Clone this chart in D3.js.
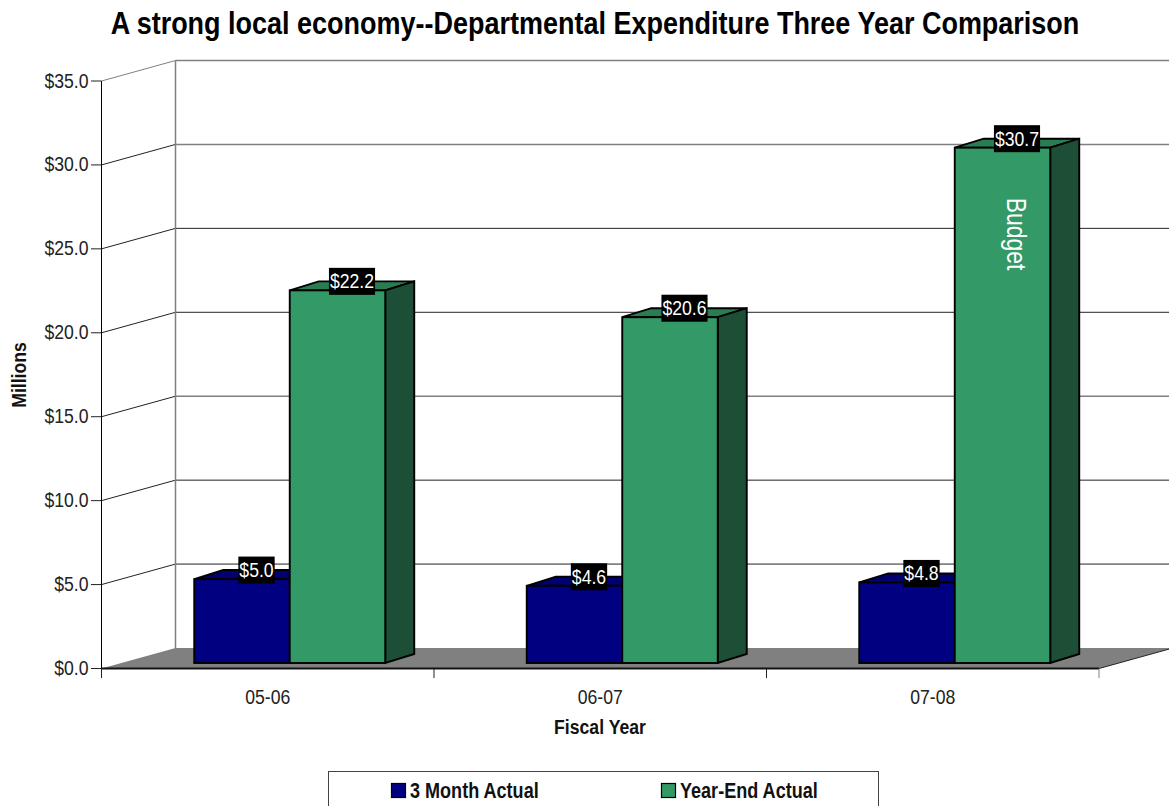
<!DOCTYPE html>
<html><head><meta charset="utf-8">
<script src="https://cdnjs.cloudflare.com/ajax/libs/d3/7.8.5/d3.min.js"></script>
<style>html,body{margin:0;padding:0;background:#fff;overflow:hidden}svg{display:block}text{font-family:"Liberation Sans",Arial,sans-serif}</style>
</head><body><svg id="c" width="1169" height="806"></svg>
<script>
const categories=["05-06","06-07","07-08"];
const seriesNames=["3 Month Actual","Year-End Actual"];
const threeMonth=[5.0,4.6,4.8];
const yearEnd=[22.2,20.6,30.7];
const yTicks=[0,5,10,15,20,25,30,35];
const heavyTicks=[15,30,35];
const title="A strong local economy--Departmental Expenditure Three Year Comparison";
const xTitle="Fiscal Year", yTitle="Millions", note="Budget";

const frontCol=["#000080","#339966"], topCol=["#000070","#2a7d53"], sideCol=["#000050","#1c4f36"];
const svg=d3.select("#c");
const y=d3.scaleLinear().domain([0,35]).range([668.5,81]);
const x=d3.scaleBand().domain(categories).range([101.5,1099]);
const s=d3.scaleBand().domain(seriesNames).range([-95.5,95.5]);
const wall={dx:74,dy:-20.5}, front={dx:22,dy:-5.5}, back={dx:51,dy:-14.5};
const fmt=d3.format("$.1f");
const W=x.range()[1], L=x.range()[0], Y0=y(0);
const NARROW=0.84;
function label(parent,str,px,py,size,opts={}){
  const rot=opts.rotate?` rotate(${opts.rotate})`:"";
  const sx=opts.sx||NARROW;
  return parent.append("text").attr("transform",`translate(${px},${py})${rot} scale(${sx},1)`)
    .attr("text-anchor",opts.anchor||"middle").attr("font-size",size)
    .attr("font-weight",opts.bold?"bold":"normal").attr("fill",opts.fill||"#222").text(str);
}

label(svg,title,595,34,32,{bold:true,fill:"#000",sx:0.8435});

// floor
svg.append("polygon").attr("fill","#808080").attr("points",[[L,Y0],[L+wall.dx,Y0+wall.dy],[W+wall.dx,Y0+wall.dy],[W,Y0]].join(" "));
// grid
const gridG=svg.append("g");
yTicks.filter(t=>t>0).forEach(t=>{
  const gy=y(t);
  const heavy=heavyTicks.includes(t);
  gridG.append("line").attr("x1",L).attr("y1",gy).attr("x2",L+wall.dx).attr("y2",gy+wall.dy).attr("stroke",t===35?"#808080":"#222").attr("stroke-width",1);
  gridG.append("line").attr("x1",L+wall.dx).attr("y1",gy+wall.dy).attr("x2",1169).attr("y2",gy+wall.dy).attr("stroke",heavy?"#808080":"#222").attr("stroke-width",heavy?1.5:1);
});
gridG.append("line").attr("x1",L+wall.dx).attr("x2",L+wall.dx).attr("y1",y(35)+wall.dy).attr("y2",Y0+wall.dy).attr("stroke","#808080").attr("stroke-width",1.5);
svg.append("line").attr("x1",W).attr("y1",Y0).attr("x2",W+wall.dx).attr("y2",Y0+wall.dy).attr("stroke","#222").attr("stroke-width",1);

// bars
const rows=categories.map((c,i)=>[threeMonth[i],yearEnd[i]]);
const barG=svg.append("g").attr("stroke","#000").attr("stroke-width",1.9).attr("stroke-linejoin","miter");
const labels=[];
categories.forEach((c,i)=>{
  const cx=x(c)+x.bandwidth()/2;
  seriesNames.forEach((n,j)=>{
    const v=rows[i][j];
    const x0=cx+s(n)+front.dx, x1=x0+s.bandwidth();
    const ddx=back.dx-front.dx, ddy=back.dy-front.dy;
    const yb=y(0)+front.dy, yt=y(v)+front.dy;
    barG.append("polygon").attr("fill",topCol[j]).attr("points",[[x0,yt],[x0+ddx,yt+ddy],[x1+ddx,yt+ddy],[x1,yt]].join(" "));
    barG.append("polygon").attr("fill",sideCol[j]).attr("points",[[x1,yt],[x1+ddx,yt+ddy],[x1+ddx,yb+ddy],[x1,yb]].join(" "));
    labels.push({v,lx:(x0+x1+ddx)/2,ly:yt+ddy});
  });
  seriesNames.forEach((n,j)=>{
    const v=rows[i][j];
    const x0=cx+s(n)+front.dx;
    barG.append("rect").attr("x",x0).attr("y",y(v)+front.dy).attr("width",s.bandwidth()).attr("height",y(0)-y(v)).attr("fill",frontCol[j]);
  });
});
// axes
const ax=svg.append("g");
ax.append("line").attr("x1",L).attr("x2",L).attr("y1",y(35)).attr("y2",678).attr("stroke","#000").attr("stroke-width",1);
ax.append("line").attr("x1",L).attr("x2",W).attr("y1",Y0).attr("y2",Y0).attr("stroke","#111").attr("stroke-width",2);
yTicks.forEach(t=>{
  ax.append("line").attr("x1",91).attr("x2",L).attr("y1",y(t)).attr("y2",y(t)).attr("stroke","#222");
  label(ax,fmt(t),88.5,y(t)+6.5,21,{anchor:"end"});
});
[...categories.map(c=>x(c)),W].forEach((px,i)=>{
  ax.append("line").attr("x1",px).attr("x2",px).attr("y1",Y0).attr("y2",678).attr("stroke",i===3?"#808080":"#222");
});
categories.forEach(c=>{
  label(ax,c,x(c)+x.bandwidth()/2,704,21);
});
label(svg,xTitle,600,734,21,{bold:true,fill:"#111"});
label(svg,yTitle,26,375,21,{bold:true,fill:"#111",rotate:-90});
// value labels
labels.forEach(d=>{
  const t=fmt(d.v);
  const rect=svg.append("rect").attr("y",d.ly-13.5).attr("height",27).attr("fill","#000");
  const tx=label(svg,t,d.lx,d.ly+7,21,{fill:"#fff"});
  const w=tx.node().getComputedTextLength()*NARROW+2;
  rect.attr("x",d.lx-w/2).attr("width",w);
});
label(svg,note,1007,234,27,{fill:"#fff",rotate:90,sx:0.85});
// legend
svg.append("rect").attr("x",328.5).attr("y",771.5).attr("width",550).attr("height",50).attr("fill","#fff").attr("stroke","#444");
const legX=[391,661];
seriesNames.forEach((n,j)=>{
  svg.append("rect").attr("x",legX[j]+.5).attr("y",783.5).attr("width",14).attr("height",14).attr("fill",frontCol[j]).attr("stroke","#000").attr("stroke-width",1.2);
  label(svg,n,legX[j]+19,798,21.5,{anchor:"start",bold:true,fill:"#111"});
});
</script></body></html>
